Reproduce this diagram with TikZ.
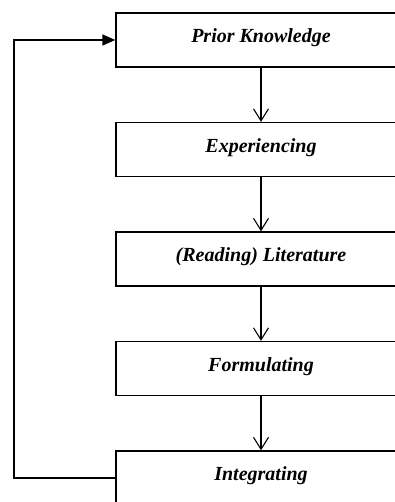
\documentclass[tikz,border=0pt]{standalone}
\usepackage{fontspec}
\setmainfont{Liberation Serif}
\usetikzlibrary{arrows.meta}
\begin{document}
\begin{tikzpicture}[node distance=109.5pt, x=1pt, y=1pt]
	\useasboundingbox (0,0) rectangle (395,502);
	\clip (0,0) rectangle (395,502);
	\tikzstyle{stage}=[rectangle, draw=black, line width=1.3pt, minimum width=290pt, minimum height=54pt, inner sep=0pt, text height=14pt, text depth=8pt, font=\fontsize{20}{24}\selectfont\bfseries\itshape]
	\node[stage] 				(P) at (261,462) {Prior Knowledge};
	\node[stage, below of=P] 	(E) {Experiencing};
	\node[stage, below of=E] 	(L) {(Reading) Literature};
	\node[stage, below of=L] 	(F) {Formulating};
	\node[stage, below of=F] 	(I) {Integrating};
	\coordinate (back) at (14,24);
	\begin{scope}[-{Straight Barb[length=12pt, width=15pt]}, line width=1.1pt]
		\draw	(P) -- (E);
		\draw	(E) -- (L);
		\draw	(L) -- (F);
		\draw	(F) -- (I);
	\end{scope}
	\draw[-{Triangle[length=13pt, width=11pt]}, line width=1.3pt] (I.west) -- (back) |- (P.west);
\end{tikzpicture}
\end{document}
